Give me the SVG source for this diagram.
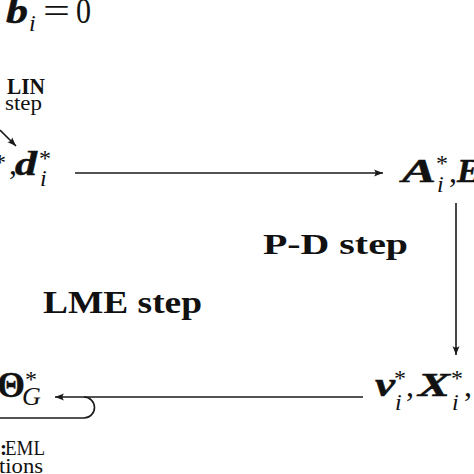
<svg xmlns="http://www.w3.org/2000/svg" width="474" height="474" viewBox="0 0 474 474">
<defs>
<style>
text{font-family:"Liberation Serif","Times New Roman",serif;fill:#111}
.bi{font-weight:bold;font-style:italic;stroke:#111;stroke-width:0.5}
.b{font-weight:bold}
.it{font-style:italic}
.sup{font-size:24px}
.sub{font-size:24px;font-style:italic}
.ln{fill:none;stroke:#1a1a1a;stroke-width:1.6}
</style>
<marker id="ah" markerWidth="10" markerHeight="8" refX="9" refY="4" orient="auto" markerUnits="userSpaceOnUse">
<path d="M0,0.5 Q3,4 0,7.5 L9,4 Z" fill="#1a1a1a"/>
</marker>
</defs>
<rect width="474" height="474" fill="#fff"/>

<g id="top-eq">
<text class="bi" x="6" y="23" font-size="36" textLength="22" lengthAdjust="spacingAndGlyphs">b</text>
<text class="sub" x="29" y="31">i</text>
<text x="43" y="23" font-size="36" textLength="27" lengthAdjust="spacingAndGlyphs">=</text>
<text x="76" y="23" font-size="36" textLength="15" lengthAdjust="spacingAndGlyphs">0</text>
</g>

<g id="lin-label">
<text class="b" x="7" y="94" font-size="23" textLength="38" lengthAdjust="spacingAndGlyphs">LIN</text>
<text x="5" y="110" font-size="21" textLength="37" lengthAdjust="spacingAndGlyphs">step</text>
</g>

<g id="node-d">
<text x="-6" y="170" font-size="24">*</text>
<text x="9" y="174" font-size="32">,</text>
<text class="bi" x="15" y="175" font-size="34" textLength="22" lengthAdjust="spacingAndGlyphs">d</text>
<text class="sup" x="39" y="166">*</text>
<text class="sub" x="40" y="186">i</text>
</g>

<g id="node-AE">
<text class="bi" x="402" y="182" font-size="34" textLength="34" lengthAdjust="spacingAndGlyphs">A</text>
<text class="sup" x="436" y="171">*</text>
<text class="sub" x="437" y="192">i</text>
<text x="449" y="182" font-size="32">,</text>
<text class="bi" x="457" y="182" font-size="34">E</text>
</g>

<g id="node-vX">
<text class="bi" x="375" y="396" font-size="34" textLength="20" lengthAdjust="spacingAndGlyphs">v</text>
<text class="sup" x="394" y="386">*</text>
<text class="sub" x="395" y="410">i</text>
<text x="406" y="396" font-size="32">,</text>
<text class="bi" x="418" y="396" font-size="34" textLength="32" lengthAdjust="spacingAndGlyphs">X</text>
<text class="sup" x="451" y="386">*</text>
<text class="sub" x="452" y="410">i</text>
<text x="464" y="396" font-size="32">,</text>
</g>

<g id="node-theta">
<text class="b" x="-3" y="397" font-size="36" stroke="#111" stroke-width="0.4">Θ</text>
<text class="sup" x="25" y="387">*</text>
<text class="it" x="22" y="405" font-size="26">G</text>
</g>

<g id="step-labels">
<text class="b" x="263" y="254" font-size="30" textLength="145" lengthAdjust="spacingAndGlyphs">P-D step</text>
<text class="b" x="43" y="313" font-size="31" textLength="159" lengthAdjust="spacingAndGlyphs">LME step</text>
</g>

<g id="reml-label">
<text x="0" y="455" font-size="21" font-weight="bold">:</text>
<text x="5" y="455" font-size="21" textLength="40" lengthAdjust="spacingAndGlyphs">EML</text>
<text x="-1" y="473" font-size="21" textLength="44" lengthAdjust="spacingAndGlyphs">tions</text>
</g>

<g id="connectors">
<line class="ln" x1="75" y1="173" x2="383" y2="173" marker-end="url(#ah)"/>
<line class="ln" x1="456" y1="203" x2="456" y2="355" stroke-width="1.1" marker-end="url(#ah)"/>
<line class="ln" x1="363" y1="397" x2="55" y2="397" marker-end="url(#ah)"/>
<path class="ln" d="M0,418 H84 A10.5,10.5 0 0 0 84,397"/>
<line class="ln" x1="0" y1="130" x2="16" y2="146" stroke-width="1.2" marker-end="url(#ah)"/>
</g>
</svg>
